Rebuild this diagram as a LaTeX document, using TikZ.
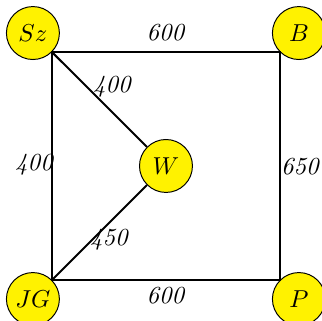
\documentclass[tikz,border=0pt]{standalone}
\usepackage{amsmath,amssymb}
\usepackage{tikz}
\usepackage{xcolor}

\begin{document}
\begin{tikzpicture}[scale=1.0,
  town/.style={circle,draw,fill=yellow,minimum size=0.76cm,inner sep=0pt},
  road/.style={thick},
  dist/.style={font=\itshape}]
\useasboundingbox (-0.746,-0.588) rectangle (3.875,4.018);
% corners of the square
\coordinate (jg) at (0,0);
\coordinate (p) at (3.27,0);
\coordinate (b) at (3.27,3.27);
\coordinate (sz) at (0,3.27);
% towns
\node[town] (W) at (1.636,1.636) {$W$};
\node[town,above left] (Sz) at (sz) {$Sz$};
\node[town,above right] (B) at (b) {$B$};
\node[town,below left] (JG) at (jg) {$JG$};
\node[town,below right] (P) at (p) {$P$};
% roads
\draw[road] (sz) -- (b) -- (p) -- (jg) -- cycle;
\draw[road] (sz) -- (W);
\draw[road] (jg) -- (W);
% distances
\node[dist] (dTop) at (1.629,3.544) {600};
\node[dist] (dBot) at (1.629,-0.230) {600};
\node[dist] (dLeft) at (-0.258,1.65) {400};
\node[dist] (dRight) at (3.559,1.62) {650};
\node[dist] (dSzW) at (0.861,2.770) {400};
\node[dist] (dJGW) at (0.818,0.574) {450};
\end{tikzpicture}
\end{document}
